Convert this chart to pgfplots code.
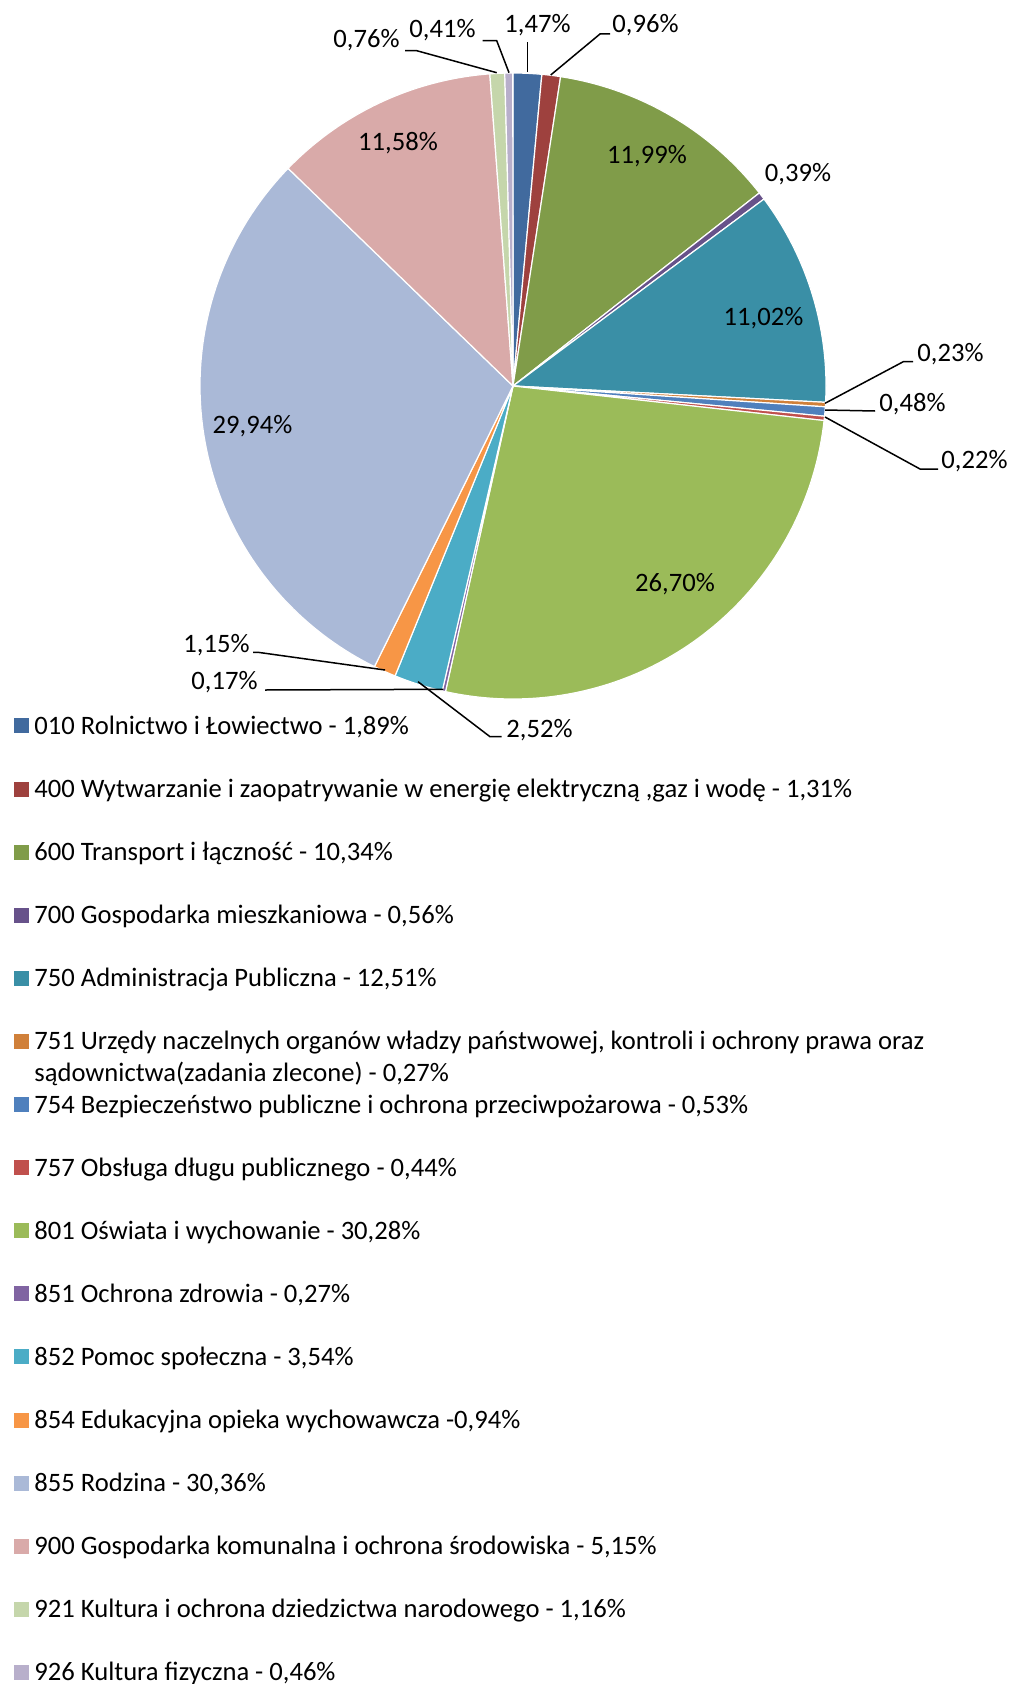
\documentclass[border=0pt]{standalone}
\usepackage{pgfplots}
\pgfplotsset{compat=1.18}
\usepackage{pgfplotstable}
\usepackage{fontspec}
\setmainfont{Carlito}

\definecolor{pie0}{HTML}{416A9E}
\definecolor{pie1}{HTML}{9E413E}
\definecolor{pie2}{HTML}{809C49}
\definecolor{pie3}{HTML}{67528A}
\definecolor{pie4}{HTML}{3A8FA6}
\definecolor{pie5}{HTML}{D0803A}
\definecolor{pie6}{HTML}{4F80BD}
\definecolor{pie7}{HTML}{C0504D}
\definecolor{pie8}{HTML}{9BBB59}
\definecolor{pie9}{HTML}{8064A2}
\definecolor{pie10}{HTML}{4BACC6}
\definecolor{pie11}{HTML}{F79646}
\definecolor{pie12}{HTML}{AAB9D7}
\definecolor{pie13}{HTML}{D9AAA9}
\definecolor{pie14}{HTML}{C5D6AB}
\definecolor{pie15}{HTML}{B8AFCB}

% slice shares in percent, clockwise from 12 o'clock
\pgfplotstableread{
code value
010 1.47
400 0.96
600 11.99
700 0.39
750 11.02
751 0.23
754 0.48
757 0.22
801 26.70
851 0.17
852 2.52
854 1.15
855 29.94
900 11.58
921 0.76
926 0.41
}\piedata

\newcommand\chartfont{\fontsize{13.3}{15.6}\selectfont}
\tikzset{lab/.style={font=\chartfont, inner sep=0pt}}
\newcommand\slice[2]{%
  \addplot[draw=white, line width=0.6pt, fill=pie#1,
    domain=\csname ps#1\endcsname:\csname pe#1\endcsname, samples=90]
    ({513+313*sin(x)},{386-313*cos(x)}) -- (axis cs:513,386) -- cycle;
  \addlegendentry{\hspace{2.5pt}#2}}
\newcommand\leader[1]{\addplot[black, line width=0.75pt, forget plot] coordinates {#1};}

\begin{document}
\begin{tikzpicture}
\def\acc{0}
\foreach \i in {0,...,15}{
  \pgfplotstablegetelem{\i}{value}\of\piedata
  \pgfmathsetmacro\a{\acc}
  \pgfmathsetmacro\b{\acc+3.6*\pgfplotsretval}
  \expandafter\xdef\csname ps\i\endcsname{\a}
  \expandafter\xdef\csname pe\i\endcsname{\b}
  \xdef\acc{\b}
}
\begin{axis}[scale only axis, width=505.5pt, height=842pt,
  xmin=0, xmax=1011, ymin=0, ymax=1684, y dir=reverse,
  hide axis, clip=false,
  legend cell align=left,
  legend image code/.code={\fill[#1, draw=none] (0pt,-3.75pt) rectangle (7.5pt,3.75pt);},
  legend style={at={(axis cs:14,694)}, anchor=north west, draw=none, fill=none,
    inner sep=0pt, row sep=0pt,
    nodes={inner sep=0pt, text height=20pt, text depth=11.55pt},
    font=\chartfont}]
\slice{0}{010 Rolnictwo i Łowiectwo - 1,89\%}
\slice{1}{400 Wytwarzanie i zaopatrywanie w energię elektryczną ,gaz i wodę - 1,31\%}
\slice{2}{600 Transport i łączność - 10,34\%}
\slice{3}{700 Gospodarka mieszkaniowa - 0,56\%}
\slice{4}{750 Administracja Publiczna - 12,51\%}
\slice{5}{\begin{tabular}[t]{@{}l@{}}751 Urzędy naczelnych organów władzy państwowej, kontroli i ochrony prawa oraz\\ sądownictwa(zadania zlecone) - 0,27\%\end{tabular}}
\slice{6}{754 Bezpieczeństwo publiczne i ochrona przeciwpożarowa - 0,53\%}
\slice{7}{757 Obsługa długu publicznego - 0,44\%}
\slice{8}{801 Oświata i wychowanie - 30,28\%}
\slice{9}{851 Ochrona zdrowia - 0,27\%}
\slice{10}{852 Pomoc społeczna - 3,54\%}
\slice{11}{854 Edukacyjna opieka wychowawcza -0,94\%}
\slice{12}{855 Rodzina - 30,36\%}
\slice{13}{900 Gospodarka komunalna i ochrona środowiska - 5,15\%}
\slice{14}{921 Kultura i ochrona dziedzictwa narodowego - 1,16\%}
\slice{15}{926 Kultura fizyczna - 0,46\%}

\leader{(527.7,72) (527.7,42)}
\leader{(550.7,75) (600,34) (610,34)}
\leader{(509,72.7) (496.7,40.7) (482.7,40.7)}
\leader{(496.7,72.7) (416.7,50.7) (405,50.7)}
\leader{(825,403.3) (903.3,361.7) (913,361.7)}
\leader{(825,410) (875,411)}
\leader{(825,417) (920,469) (938,469)}
\leader{(385,670) (258,652.3) (253,652.3)}
\leader{(443.3,689.3) (265,690)}
\leader{(418,681.7) (490,736.7) (501.7,736.7)}

\node[lab, anchor=base west] at (axis cs:504,33) {1,47\%};
\node[lab, anchor=base west] at (axis cs:612,33) {0,96\%};
\node[lab, anchor=base west] at (axis cs:409,38) {0,41\%};
\node[lab, anchor=base west] at (axis cs:333,48) {0,76\%};
\node[lab] at (axis cs:647,156) {11,99\%};
\node[lab] at (axis cs:798,174) {0,39\%};
\node[lab] at (axis cs:763.5,318.5) {11,02\%};
\node[lab, anchor=base west] at (axis cs:917,361) {0,23\%};
\node[lab, anchor=base west] at (axis cs:879,411) {0,48\%};
\node[lab, anchor=base west] at (axis cs:941,468) {0,22\%};
\node[lab] at (axis cs:675,584) {26,70\%};
\node[lab, anchor=base west] at (axis cs:506,737) {2,52\%};
\node[lab, anchor=base west] at (axis cs:191,689) {0,17\%};
\node[lab, anchor=base west] at (axis cs:183,652) {1,15\%};
\node[lab] at (axis cs:252.5,426.5) {29,94\%};
\node[lab] at (axis cs:398,143) {11,58\%};
\end{axis}
\pgfresetboundingbox
\path (current axis.south west) rectangle (current axis.north east);
\end{tikzpicture}
\end{document}
